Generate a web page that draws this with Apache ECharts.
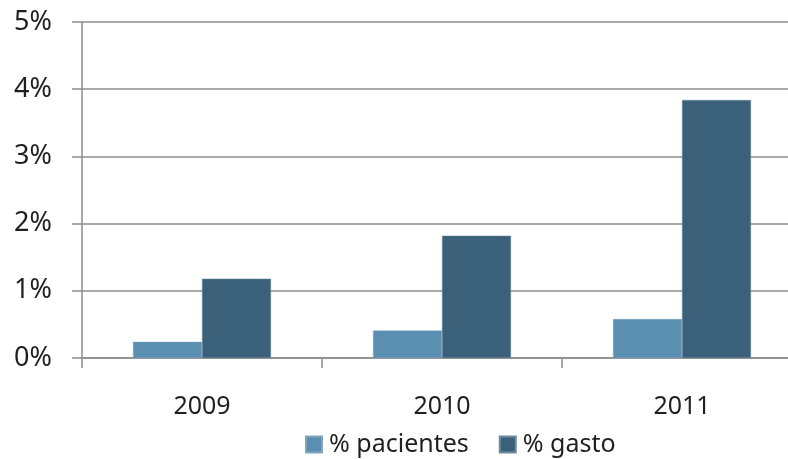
<!DOCTYPE html>
<html>
<head>
<meta charset="utf-8">
<script src="https://cdn.jsdelivr.net/npm/echarts@6/dist/echarts.min.js"></script>
<style>
  html, body { margin: 0; padding: 0; background: #fff; }
  #chart { width: 788px; height: 459px; }
</style>
</head>
<body>
<div id="chart"></div>
<script>
// Years on the category axis
const years = ['2009', '2010', '2011'];
// Share of patients and share of spending, in percent
const pacientes = [0.24, 0.41, 0.58];
const gasto = [1.18, 1.82, 3.84];
// Value axis range
const yMin = 0, yMax = 5, yStep = 1;

const FONT = '"Noto Sans", sans-serif';
const TEXT = '#231f20';
const GRID = '#8c8c8c';

const chart = echarts.init(document.getElementById('chart'), null, { renderer: 'canvas' });
chart.setOption({
  animation: false,
  backgroundColor: '#ffffff',
  // the plot runs a little past the right edge of the canvas
  grid: { left: 82, width: 720, top: 22, bottom: 101, containLabel: false, outerBoundsMode: 'none' },
  legend: {
    left: 300,
    top: 427,
    itemWidth: 16,
    itemHeight: 16,
    itemGap: 30,
    icon: 'rect',
    textStyle: { fontFamily: FONT, fontSize: 25, color: TEXT, padding: [0, 0, 0, 2] },
    data: ['% pacientes', '% gasto']
  },
  xAxis: {
    type: 'category',
    data: years,
    axisLine: { lineStyle: { color: GRID, width: 1.5 } },
    axisTick: { show: true, length: 10, alignWithLabel: false, lineStyle: { color: GRID, width: 1.5 } },
    axisLabel: { fontFamily: FONT, fontSize: 25, color: TEXT, margin: 36 }
  },
  yAxis: {
    type: 'value',
    min: yMin,
    max: yMax,
    interval: yStep,
    axisLine: { show: true, lineStyle: { color: GRID, width: 1.5 } },
    axisTick: { show: true, length: 10, lineStyle: { color: GRID, width: 1.5 } },
    splitLine: { show: true, lineStyle: { color: GRID, width: 1.5 } },
    axisLabel: {
      fontFamily: FONT, fontSize: 27, color: TEXT, margin: 30,
      formatter: v => v + '%'
    }
  },
  series: [
    {
      name: '% pacientes',
      type: 'bar',
      data: pacientes,
      barGap: '0%',
      barCategoryGap: '42.5%',
      itemStyle: { color: '#5b8fb1', borderColor: '#7fa6c1', borderWidth: 0.5 }
    },
    {
      name: '% gasto',
      type: 'bar',
      data: gasto,
      barGap: '0%',
      barCategoryGap: '42.5%',
      itemStyle: { color: '#3a6179', borderColor: '#6d8da0', borderWidth: 0.5 }
    }
  ]
});
</script>
</body>
</html>
